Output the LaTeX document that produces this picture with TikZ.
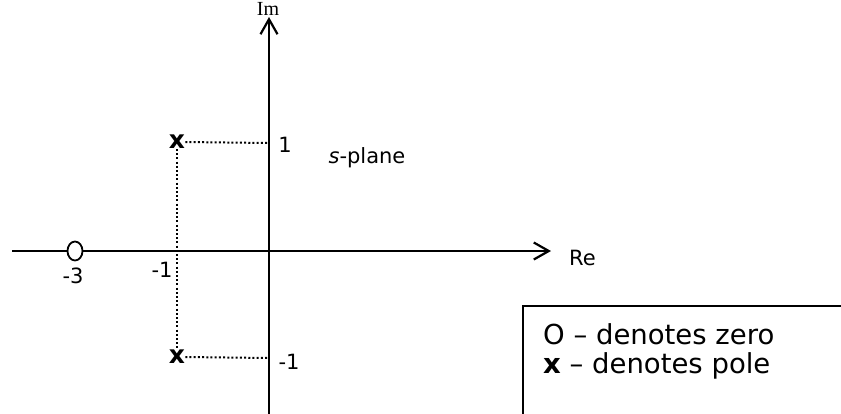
\documentclass[tikz,border=0pt]{standalone}
\usepackage{fontspec}
\setmainfont{DejaVu Sans}
\newfontfamily\imfont{Liberation Serif}
\usetikzlibrary{arrows.meta,shapes.geometric}
\tikzset{
axis/.style={line width=2.3pt,-{Straight Barb[length=15pt,width=17pt,line width=2.2pt]}},
guide/.style={line width=2pt,dash pattern=on 2pt off 2.2pt},
lbl/.style={inner sep=0pt,font=\fontsize{21}{25}\selectfont},
pole/.style={inner sep=0pt,font=\fontsize{25}{29}\selectfont\bfseries},
legend/.style={inner sep=0pt,anchor=west,font=\fontsize{27.5}{32}\selectfont}
}
\begin{document}
\begin{tikzpicture}[x=1pt,y=-1pt]
\useasboundingbox (0,0) rectangle (841,413);
% axes
\coordinate (left) at (12,251);
\coordinate (re) at (551,251);
\coordinate (bottom) at (269,425);
\coordinate (im) at (269,17);
\node[draw,ellipse,line width=1.8pt,minimum width=15pt,minimum height=19pt,inner sep=0pt] (zero) at (75,251){};
\draw[line width=1.5pt] (left) -- (zero.west);
\draw[axis] (zero.east) -- (re);
\draw[axis] (bottom) -- (im);
\node[lbl,anchor=west] (relbl) at (569,258){Re};
\node[inner sep=0pt,anchor=north,font=\imfont\fontsize{20}{24}\selectfont] (imlbl) at (268,2){Im};
% poles
\node[pole] (p1) at (177,142){x};
\node[pole] (p2) at (177,357){x};
\coordinate (a1) at (269,143);
\coordinate (a2) at (269,358);
\draw[guide] (p1.east) -- (a1);
\draw[guide] (p2.east) -- (a2);
\draw[guide] (p1.south) -- (p2.north);
% tick labels
\node[lbl] (one) at (285,145){1};
\node[lbl] (mone) at (289,362){-1};
\node[lbl] (mthree) at (73,276){-3};
\node[lbl] (mone2) at (162,270){-1};
\node[lbl] (plane) at (367,158){\textit{s}-plane};
% legend box
\draw[line width=1.6pt] (523,425) -- (523,306) -- (850,306);
\node[legend] (lz) at (543,334){O -- denotes zero};
\node[legend] (lp) at (543,366){\textbf{x} -- denotes pole};
\end{tikzpicture}
\end{document}
